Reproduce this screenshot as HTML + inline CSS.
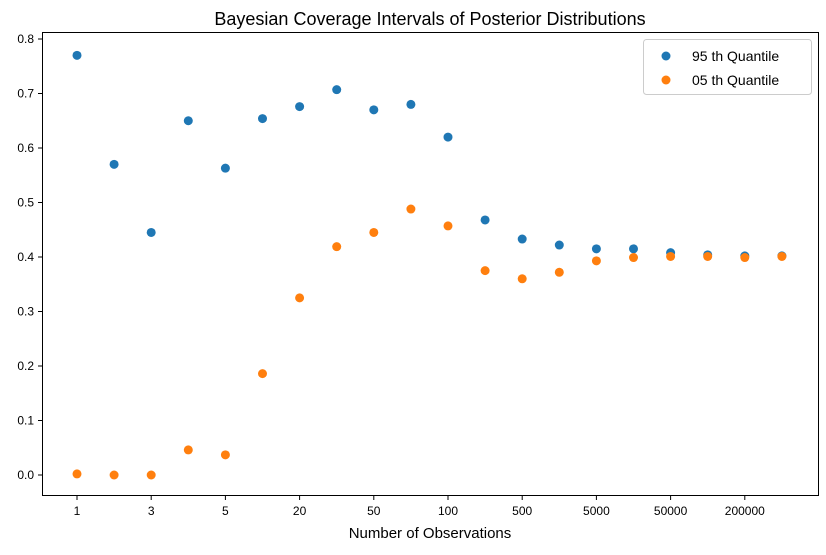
<!DOCTYPE html>
<html><head><style>body{margin:0;background:#fff}</style></head><body>
<svg width="826" height="550" xmlns="http://www.w3.org/2000/svg" font-family="Liberation Sans, DejaVu Sans, sans-serif">
<rect width="826" height="550" fill="#fff"/>
<text x="430" y="25" font-size="18" text-anchor="middle" fill="#000">Bayesian Coverage Intervals of Posterior Distributions</text>
<rect x="42.5" y="32.5" width="776" height="463" fill="none" stroke="#000" stroke-width="1"/>
<g id="yt" font-size="12" text-anchor="end" fill="#000"></g>
<g id="xt" font-size="12" text-anchor="middle" fill="#000"></g>
<g id="pts"></g>
<text x="430" y="538" font-size="15" text-anchor="middle">Number of Observations</text>
<rect x="643.5" y="39.5" width="168" height="55" rx="3" fill="#fff" stroke="#ccc"/>
<circle cx="666" cy="56" r="4.5" fill="#1f77b4"/>
<text x="692" y="61" font-size="14">95 th Quantile</text>
<circle cx="666" cy="80" r="4.5" fill="#ff7f0e"/>
<text x="692" y="85" font-size="14">05 th Quantile</text>
<script>
var ns="http://www.w3.org/2000/svg";
function el(p,t,a,tx){var e=document.createElementNS(ns,t);for(var k in a)e.setAttribute(k,a[k]);if(tx!=null)e.textContent=tx;document.getElementById(p).appendChild(e);}
for(var i=0;i<=8;i++){var v=i/10,y=475-v*545;el("yt","line",{x1:38,x2:42.5,y1:y,y2:y,stroke:"#000"});el("yt","text",{x:34,y:y+4},v.toFixed(1));}
var lab=["1","3","5","20","50","100","500","5000","50000","200000"];
for(var i=0;i<10;i++){var x=77+74.2*i;el("xt","line",{x1:x,x2:x,y1:495.5,y2:500,stroke:"#000"});el("xt","text",{x:x,y:515},lab[i]);}
var b=[0.77,0.57,0.445,0.65,0.563,0.654,0.676,0.707,0.67,0.68,0.62,0.468,0.433,0.422,0.415,0.415,0.408,0.404,0.402,0.402];
var o=[0.002,0,0,0.046,0.037,0.186,0.325,0.419,0.445,0.488,0.457,0.375,0.36,0.372,0.393,0.399,0.401,0.401,0.399,0.401];
for(var i=0;i<20;i++){var x=77+37.1*i;el("pts","circle",{cx:x,cy:475-b[i]*545,r:4.5,fill:"#1f77b4"});el("pts","circle",{cx:x,cy:475-o[i]*545,r:4.5,fill:"#ff7f0e"});}
</script>
</svg>
</body></html>
